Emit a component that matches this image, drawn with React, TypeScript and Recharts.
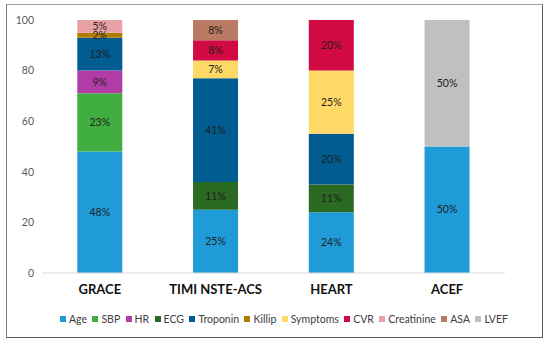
import { Bar, BarChart, LabelList, Legend, XAxis, YAxis } from 'recharts';

const scores = ['GRACE', 'TIMI NSTE-ACS', 'HEART', 'ACEF'];

const age = [48, 25, 24, 50];
const sbp = [23, 0, 0, 0];
const hr = [9, 0, 0, 0];
const ecg = [0, 11, 11, 0];
const troponin = [13, 41, 20, 0];
const killip = [2, 0, 0, 0];
const symptoms = [0, 7, 25, 0];
const cvr = [0, 8, 20, 0];
const creatinine = [5, 0, 0, 0];
const asa = [0, 8, 0, 0];
const lvef = [0, 0, 0, 50];

const yTicks = [0, 20, 40, 60, 80, 100];

const series = [
  { key: 'Age', values: age, color: '#1f9bd7' },
  { key: 'SBP', values: sbp, color: '#40ae40' },
  { key: 'HR', values: hr, color: '#b23ca6' },
  { key: 'ECG', values: ecg, color: '#2b6a23' },
  { key: 'Troponin', values: troponin, color: '#015c91' },
  { key: 'Killip', values: killip, color: '#b07c02' },
  { key: 'Symptoms', values: symptoms, color: '#ffd965' },
  { key: 'CVR', values: cvr, color: '#d20a43' },
  { key: 'Creatinine', values: creatinine, color: '#e8a1a5' },
  { key: 'ASA', values: asa, color: '#b97b63' },
  { key: 'LVEF', values: lvef, color: '#c0c0c0' },
];

const data = scores.map((name, i) => {
  const row: Record<string, string | number> = { name };
  series.forEach((s) => {
    row[s.key] = s.values[i];
  });
  return row;
});

const FONT = 'Lato, "Open Sans", sans-serif';

function LegendRow() {
  return (
    <div
      style={{
        display: 'flex',
        justifyContent: 'space-between',
        fontFamily: FONT,
        fontSize: 10.5,
        lineHeight: '16px',
        color: '#404040',
      }}
    >
      {series.map((s) => (
        <span key={s.key} style={{ display: 'flex', alignItems: 'center', gap: 3 }}>
          <span style={{ width: 6, height: 6, background: s.color, display: 'inline-block' }} />
          {s.key}
        </span>
      ))}
    </div>
  );
}

export default function App() {
  return (
    <div style={{ position: 'absolute', left: 0, top: 0, width: 550, height: 347, background: '#fff' }}>
      <div
        style={{
          position: 'absolute',
          left: 6,
          top: 4,
          width: 535,
          height: 332,
          border: '1.5px solid #5a5a5a',
          borderTopColor: '#a0a0a0',
          borderLeftColor: '#808080',
        }}
      />
      <div style={{ position: 'absolute', left: 0, top: 0 }}>
        <BarChart
          width={550}
          height={347}
          data={data}
          margin={{ top: 20, right: 45, bottom: 20, left: 12 }}
          barCategoryGap="30.5%"
        >
          <XAxis
            dataKey="name"
            axisLine={{ stroke: '#d9d9d9' }}
            tickLine={false}
            tickMargin={6}
            height={38}
            tick={{ fontFamily: FONT, fontSize: 13, fontWeight: 700, fill: '#111' }}
          />
          <YAxis
            width={30}
            domain={[0, 100]}
            ticks={yTicks}
            axisLine={false}
            tickLine={false}
            tick={{ fontFamily: FONT, fontSize: 10.5, fill: '#595959' }}
          />
          <Legend
            verticalAlign="bottom"
            height={16}
            wrapperStyle={{ left: 60, width: 448 }}
            content={() => <LegendRow />}
          />
          {series.map((s) => (
            <Bar key={s.key} dataKey={s.key} stackId="a" fill={s.color} isAnimationActive={false}>
              <LabelList
                dataKey={s.key}
                position="center"
                formatter={(v: unknown) => (Number(v) > 0 ? `${v}%` : '')}
                style={{ fontFamily: FONT, fontSize: 10.5, fill: '#1e1e1e' }}
              />
            </Bar>
          ))}
        </BarChart>
      </div>
    </div>
  );
}
